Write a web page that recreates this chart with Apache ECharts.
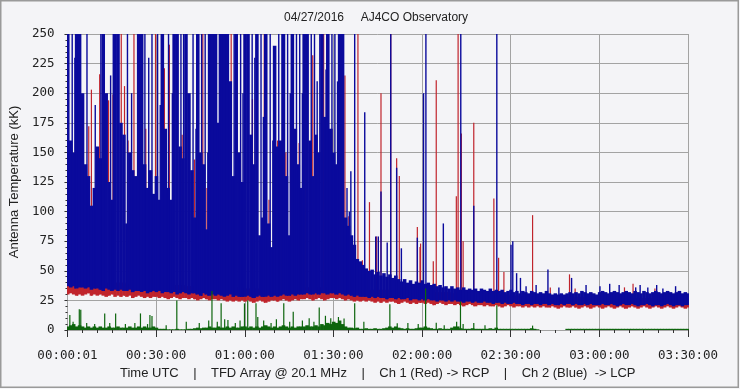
<!DOCTYPE html>
<html><head><meta charset="utf-8">
<script src="https://cdn.jsdelivr.net/npm/echarts/dist/echarts.min.js"></script>
<style>html,body{margin:0;padding:0;background:#f4f4f7}#c{width:740px;height:389px}</style>
</head><body><div id="c"></div>
<script>
// x axis: minutes since 00:00:00 UTC (0..210)
const xTickLabels = ['00:00:01','00:30:00','01:00:00','01:30:00','02:00:00','02:30:00','03:00:00','03:30:00'];
const yTicks = [0,25,50,75,100,125,150,175,200,225,250];

// Ch 2 (Blue): per-minute top of trace and bottom of trace (kK)
const blueHigh = [
250,160,150,250,250,200,140,130,105,120,
155,145,250,200,125,110,250,250,175,165,
90,150,135,130,250,250,140,120,135,115,
130,110,250,170,120,110,250,250,155,145,
250,200,135,95,250,150,140,85,250,250,
250,175,250,250,250,210,130,250,150,125,
250,250,165,140,250,80,95,250,90,70,
240,155,160,250,130,80,250,170,140,120,
250,250,160,130,165,150,250,180,250,170,
150,140,250,250,95,88,80,72,60,58,
55,52,50,51,47,49,46,48,45,47,
44,46,43,41,43,40,42,39,41,40,
42,39,40,38,39,37,38,36,37,35,
37,35,36,34,36,34,35,34,35,33,
35,34,33,35,33,34,33,34,32,33,
34,32,33,31,33,32,31,33,32,31,
32,31,33,31,30,31,30,31,30,31,
32,31,32,31,33,32,31,32,31,30,
32,33,32,31,32,33,32,31,32,33,
32,31,33,32,31,33,32,31,32,33,
32,31,32,33,32,31,32,33,31,32,
31];
const blueLow = [
37,36,37,35,36,36,35,36,34,35,
35,34,33,35,34,33,34,33,34,33,
33,34,32,33,33,32,33,31,32,33,
32,33,31,32,32,31,32,30,31,32,
31,30,31,31,30,29,31,30,29,30,
29,30,29,28,29,30,28,29,28,28,
28,29,28,27,28,29,28,28,29,28,
29,28,29,30,29,29,30,29,30,30,
30,31,30,30,31,30,31,31,30,31,
31,30,31,30,29,30,29,28,29,28,
28,28,27,28,27,28,27,27,26,27,
27,26,27,26,26,27,25,26,26,25,
26,25,26,25,25,24,25,25,24,25,
24,25,24,24,23,24,24,23,24,23,
23,24,23,23,22,23,23,22,23,22,
22,23,22,22,21,22,22,21,22,22,
21,22,22,21,22,21,21,22,21,22,
22,21,22,21,21,22,21,22,21,21,
21,22,21,21,22,21,20,21,22,21,
21,22,21,20,21,21,22,21,20,21,
21,20,21,22,21,20,21,21,20,21,
21];
// Ch 2 (Blue) isolated spikes: [minute, kK]
const blueSpikes = [
[1.6,250],[2.5,230],[6.6,250],[9.4,190],[11.3,250],[14.6,215],[15.5,250],[20.3,250],[21.7,200],
[26.2,250],[27.5,230],[28.6,250],[30.5,250],[31.4,190],[34.2,250],[35.5,200],[38.4,250],[39.3,250],
[42.5,250],[43.5,170],[45.4,250],[46.6,250],[47.5,150],[51.4,250],[56.4,250],[58.6,250],[59.4,200],
[62.5,250],[63.4,230],[65.5,250],[66.3,180],[68.6,250],[69.5,160],[71.5,250],[72.6,250],[74.5,250],
[75.4,200],[77.5,250],[78.6,250],[79.5,200],[82.5,250],[83.6,250],[84.5,210],[85.4,250],[87.5,220],
[89.5,250],[90.5,250],[91.4,210],[94.6,120],[95.4,100],[95.9,134],
[97.2,250],[100.6,184],[104.3,79],[105.2,79],[106.1,117],[108.2,74],[109.4,250],[111.4,137],[113.0,69],
[118.4,78],[120.5,200],[121.3,250],[127.2,90],[133.1,250],[137.5,105],[145.3,250],[150.1,72],[150.7,75],
[152.0,48],[153.3,44],[162.6,51],[170.6,44],[183.5,39],[192.3,36],[193.8,38],[201.5,35],
[155.2,37],[158.6,38],[166.3,36],[175.5,38],[180.2,37],[186.7,38],[196.4,36],[205.8,37],[199.4,38]
];

// Ch 1 (Red): per-minute bottom of trace, 10-minute band top, spikes
const redLow = [
30,31,30,29,30,29,30,31,29,30,
29,30,29,28,29,30,28,29,28,29,
28,29,27,28,29,28,27,28,27,28,
28,27,28,27,26,27,28,27,26,27,
27,26,27,26,25,26,27,26,25,26,
26,25,26,25,24,25,24,25,24,25,
24,25,24,23,24,25,24,23,24,25,
25,24,25,26,25,24,25,26,25,26,
26,27,26,25,26,27,26,25,26,27,
27,26,27,26,25,26,25,24,25,24,
25,24,25,24,23,24,23,24,23,24,
24,23,22,23,24,23,22,23,22,23,
23,22,23,22,21,22,23,22,21,22,
22,21,22,21,20,21,22,21,20,21,
21,20,21,20,20,21,20,19,20,21,
20,19,20,20,19,20,19,20,19,20,
19,20,19,19,20,19,18,19,20,19,
19,20,19,18,19,20,19,18,19,20,
19,18,19,20,19,18,19,20,19,18,
19,20,19,18,19,20,19,18,19,20,
19,18,19,20,19,18,19,20,19,18,
19];
const redBandTop = [42,40,39,38,37,36,35,35,36,36,34,33,32,31,30,29,28,28,27,27,27,27];
const redSpikes = [
[3.3,182],[7.2,172],[8.1,203],[10.9,216],[13.9,194],[15.4,199],[18.2,250],[19.3,206],[20.5,160],
[22.5,250],[26.5,170],[29.8,250],[32.8,221],[34.5,241],[38.8,165],[43.0,144],[45.8,250],[47.2,120],
[55.4,250],[57.1,250],[59.9,250],[62.6,195],[66.6,250],[68.2,110],[69.8,233],[71.1,160],[73.9,150],
[75.6,175],[78.4,158],[80.7,250],[83.0,232],[86.7,250],[89.5,170],[93.9,215],
[95.2,96],[98.3,250],[99.8,59],[102.2,108],[104.6,79],[106.1,200],[109.4,250],[111.4,145],[112.3,130],
[118.4,87],[119.3,70],[119.5,73],[123.8,58],[124.8,211],[131.6,113],[132.2,250],[133.3,166],[133.9,75],
[137.5,175],[144.3,111],[145.9,61],[147.7,49],[157.4,97],[169.9,47],[191.4,39],
[163.4,36],[171.8,35],[188.5,36],[198.8,35]
];

// Green trace: per-minute level (null = no data) and spikes
const greenLevel = [
3,4,5,3,4,3,2,3,2,3,
2,3,2,2,3,2,2,3,2,2,
2,3,2,2,3,2,3,2,2,3,
2,1,1,1,0.6,0.6,0.6,1,0.6,0.6,
0.6,1,1,1.5,2,1.5,2,2,3,2,
2,3,2,2,3,2,3,2,2,3,
3,2,3,2,3,2,3,4,3,2,
3,2,3,4,3,2,3,2,3,3,
3,4,3,3,4,3,5,4,6,5,
7,6,8,5,3,2,2,1.5,2,1,
1,1.5,1,1,1.5,1,1,1.5,2,3,
2,3,2,1.5,1,1.5,1,1,1.5,2,
2,3,2,1.5,1,1,1.5,1,1,1,
2,3,3,1.5,1,1,1,1.5,1,1,
1,1,1,1.5,1,2,1,1,1,1,
1,1,1,1,1,1,1,1.5,1,0.6,
null,null,null,null,null,null,null,null,null,1,
1,1,1,1,1,1,1,1,1,1,
1,1,1,1,1,1,1,1,1,1,
1,1,1,1,1,1,1,1,1,1,
1,1,1,1,1,1,1,1,1,1,
1];
const greenSpikes = [
[0.8,12.7],[1.9,7],[4.0,17.5],[4.5,17],[12.6,14],[16.3,14],[24.7,14],[27.9,12.7],[28.6,11.8],
[37.0,25],[40.2,7],[48.9,33],[52.0,22.5],[54.3,8.4],[59.9,22.5],[61.0,25],[63.8,22.5],[64.4,11],
[73.2,22.5],[76.4,15.5],[85.2,19],[93.6,9.8],[97.2,22.5],[100.3,7],[109.1,21.7],[111.6,5.6],
[121.2,35],[124.8,6.2],[131.7,7],[133.0,24],[133.9,5],[137.5,6],[145.3,21],[157.4,3.7],
[6.5,6],[9.2,5],[14.3,6],[19.6,5],[22.8,6],[27.1,5],[33.4,4],[44.6,6],[47.8,8],[50.7,7],[53.2,9],
[56.8,6],[58.4,8],[66.4,8],[68.9,6],[70.7,9],[75.2,7],[79.5,8],[81.8,10],[83.4,7],[87.3,12],
[89.1,10],[91.7,11],[115.2,6],[118.7,5],[127.5,4],[141.3,4]
];

const BLUE = '#0a0a9c', RED = '#c0242c', GREEN = '#0d650d';

function bandItems(lowArr, highArr) {
  const out = [];
  for (let m = 0; m < highArr.length; m++) {
    if (highArr[m] == null) continue;
    out.push([m, lowArr[m], highArr[m]]);
  }
  return out;
}
const redBand = redLow.map((v, m) => [m, v, redBandTop[Math.floor(m / 10)]]);
const blueBand = bandItems(blueLow, blueHigh);
const greenBand = bandItems(greenLevel.map(() => 0), greenLevel);
const spikeItems = (list, lowArr) => list.map(([t, v]) => [t, lowArr ? lowArr[Math.round(t)] : 0, v]);

function bandRender(color) {
  return function (params, api) {
    const t = api.value(0), lo = api.value(1), hi = api.value(2);
    const a = api.coord([t - 0.5, lo]), b = api.coord([t + 0.5, hi]);
    return { type: 'rect', shape: { x: a[0], y: b[1], width: b[0] - a[0] + 0.6, height: a[1] - b[1] },
             style: { fill: color } };
  };
}
function spikeRender(color, w) {
  return function (params, api) {
    const t = api.value(0), lo = api.value(1), hi = api.value(2);
    const a = api.coord([t, lo]), b = api.coord([t, hi]);
    return { type: 'rect', shape: { x: a[0] - w / 2, y: b[1], width: w, height: a[1] - b[1] },
             style: { fill: color } };
  };
}
function custom(data, render) {
  return { type: 'custom', data: data, renderItem: render, clip: true, silent: true,
           encode: { x: 0, y: [1, 2] }, progressive: 0, animation: false };
}

const chart = echarts.init(document.getElementById('c'), null, { renderer: 'canvas' });
chart.setOption({
  backgroundColor: '#f4f4f7',
  animation: false,
  grid: { left: 66, right: 52, top: 34, bottom: 59, containLabel: false },
  xAxis: {
    type: 'value', min: 0, max: 210, interval: 30, offset: 5,
    axisLine: { show: false },
    axisTick: { show: true, length: 7, lineStyle: { color: '#333' } },
    minorTick: { show: true, splitNumber: 6, length: 3, lineStyle: { color: '#333' } },
    splitLine: { show: true, lineStyle: { color: '#a3a3a3', width: 1 } },
    axisLabel: { formatter: v => xTickLabels[Math.round(v / 30)], color: '#222', margin: 14,
                 fontFamily: 'DejaVu Sans Mono', fontSize: 12.5, showMinLabel: true, showMaxLabel: true },
    name: 'Time UTC    |    TFD Array @ 20.1 MHz    |    Ch 1 (Red) -> RCP    |    Ch 2 (Blue)  -> LCP',
    nameLocation: 'middle', nameGap: 30,
    nameTextStyle: { color: '#222', fontFamily: 'Liberation Sans', fontSize: 13 }
  },
  yAxis: {
    type: 'value', min: 0, max: 250, interval: 25, offset: 5,
    axisLine: { show: false },
    axisTick: { show: true, length: 3, lineStyle: { color: '#333' } },
    minorTick: { show: true, splitNumber: 5, length: 2, lineStyle: { color: '#333' } },
    splitLine: { show: true, lineStyle: { color: '#a3a3a3', width: 1 } },
    axisLabel: { formatter: v => String(v), color: '#222', margin: 8,
                 fontFamily: 'DejaVu Sans Mono', fontSize: 12.5, showMinLabel: true, showMaxLabel: true },
    name: 'Antenna Temperature (kK)', nameLocation: 'middle', nameGap: 27, nameRotate: 90,
    nameTextStyle: { color: '#222', fontFamily: 'Liberation Sans', fontSize: 13 }
  },
  graphic: [
    { type: 'text', x: 376, y: 18, z: 10, silent: true,
      style: { text: '04/27/2016     AJ4CO Observatory', fill: '#222',
               font: '12px "Liberation Sans"', align: 'center', verticalAlign: 'middle' } },
    { type: 'rect', z: 10, silent: true,
      shape: { x: 0.75, y: 0.75, width: 737.5, height: 386.5 },
      style: { fill: 'none', stroke: '#9a9a9a', lineWidth: 1.5 } }
  ],
  series: [
    custom(redBand, bandRender(RED)),
    custom(spikeItems(redSpikes, redLow), spikeRender(RED, 1.2)),
    custom(blueBand, bandRender(BLUE)),
    custom(spikeItems(blueSpikes, blueLow), spikeRender(BLUE, 1.4)),
    custom(greenBand, bandRender(GREEN)),
    custom(spikeItems(greenSpikes, null), spikeRender(GREEN, 1.2))
  ]
});
</script></body></html>
